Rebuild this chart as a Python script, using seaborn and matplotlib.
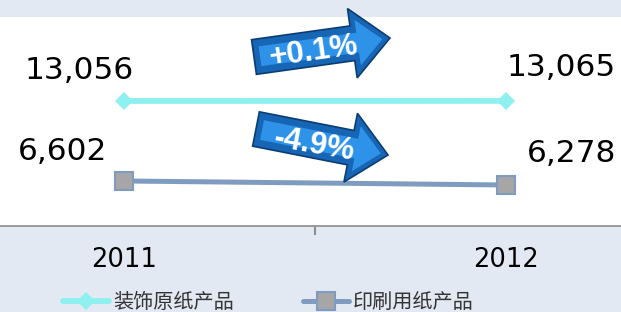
import matplotlib.pyplot as plt
import pandas as pd
import seaborn as sns
from matplotlib.patches import FancyArrow

years = ['2011', '2012']
deco = [13056, 13065]
printing = [6602, 6278]
series_names = ['装饰原纸产品', '印刷用纸产品']
changes = ['+0.1%', '-4.9%']

sns.set_style('white')
plt.rcParams['font.family'] = ['DejaVu Sans', 'Noto Sans CJK SC']

bg = '#E3E9F3'
fig = plt.figure(figsize=(6.21, 3.12), dpi=100, facecolor=bg)
ax = fig.add_axes([0, 86 / 312, 1, 209 / 312])
ax.set_facecolor('white')

df = pd.DataFrame({
    'x': [0, 1, 0, 1],
    'value': deco + printing,
    'series': [series_names[0]] * 2 + [series_names[1]] * 2,
})

sns.lineplot(data=df[df.series == series_names[0]], x='x', y='value', ax=ax,
             color='#8FF0F0', lw=4.2, marker='D', markersize=9.5,
             markeredgewidth=0, label=series_names[0])
sns.lineplot(data=df[df.series == series_names[1]], x='x', y='value', ax=ax,
             color='#7F9CC0', lw=3.6, marker='s', markersize=13,
             markerfacecolor='#A6A6A6', markeredgecolor='#7F9CC0',
             markeredgewidth=1.5, label=series_names[1])

ax.set_xlim(-0.325, 1.301)
ax.set_ylim(2970, 19830)

# value labels
offsets = {(0, 0): (-32, 22), (0, 1): (40, 24), (1, 0): (-44.6, 21), (1, 1): (47.5, 23)}
for si, vals in enumerate([deco, printing]):
    for xi, v in enumerate(vals):
        ax.annotate(f'{v:,}', (xi, v), xytext=offsets[(si, xi)],
                    textcoords='offset points', ha='center', va='center',
                    fontsize=22.5, color='black')

# change arrows (inches, isotropic)
tr = fig.dpi_scale_trans
arrows = [
    # tail x, tail y, dx, dy, text x, text y, rotation
    (2.54, 2.55, 1.36, 0.19, 3.14, 2.60, 8),
    (2.56, 1.83, 1.32, -0.26, 3.14, 1.67, -10),
]
for txt, (x0, y0, dx, dy, tx, ty, rot) in zip(changes, arrows):
    outer = FancyArrow(x0, y0, dx, dy, width=0.35, head_width=0.70,
                       head_length=0.38, length_includes_head=True,
                       transform=tr, fc='#1765B5', ec='#0B3D73', lw=1.2,
                       zorder=2)
    fig.add_artist(outer)
    inner = FancyArrow(x0 + 0.06, y0 + dy * 0.04, dx * 0.9, dy * 0.9,
                       width=0.2, head_width=0.46, head_length=0.25,
                       length_includes_head=True, transform=tr,
                       fc='#2E93E8', ec='none', zorder=2.1)
    fig.add_artist(inner)
    fig.text(tx, ty, txt, transform=tr, ha='center', va='center',
             rotation=rot, fontsize=22.5, fontweight='bold', color='white',
             family='Liberation Sans', zorder=3)

ax.set_xticks([0, 1])
ax.set_xticklabels(years, fontsize=18.5, color='black')
ax.set_xticks([0.5], minor=True)
ax.tick_params(axis='x', which='major', length=0, pad=15)
ax.tick_params(axis='x', which='minor', length=6.5, width=1.5, color='#8C8C8C',
               direction='out', bottom=True)
ax.set_yticks([])
ax.set_xlabel('')
ax.set_ylabel('')
for s in ['top', 'left', 'right']:
    ax.spines[s].set_visible(False)
ax.spines['bottom'].set_color('#8C8C8C')
ax.spines['bottom'].set_linewidth(1.2)

ax.legend_.remove()
handles, labels = ax.get_legend_handles_labels()
fig.legend(handles, labels, loc='center left', bbox_to_anchor=(63 / 621, 10 / 312),
           ncol=2, frameon=False, fontsize=14.5, handlelength=2.3,
           handletextpad=0.2, columnspacing=3.4, borderpad=0, borderaxespad=0,
           labelcolor='#333333')

fig.savefig('out.png', dpi=100, facecolor=bg)
